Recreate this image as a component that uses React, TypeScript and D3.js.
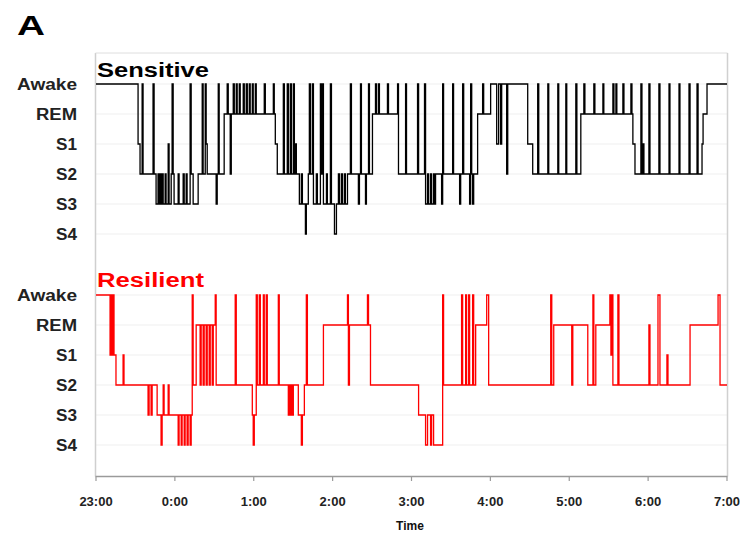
import React from "react";
import * as d3 from "d3";

// Sleep stages (index used in stage arrays)
const stageLabels = ["Awake", "REM", "S1", "S2", "S3", "S4"];
const tickLabels = ["23:00", "0:00", "1:00", "2:00", "3:00", "4:00", "5:00", "6:00", "7:00"];
const recordMinutes = 480; // 23:00 -> 7:00

// Sensitive: minutes after 23:00 at which the stage changes, and the new stage
const sensitiveMinutes = [
  0, 32.0, 33.5, 35.1, 35.8, 43.4, 44.2, 45.7, 47.2, 48.0, 48.8, 49.5, 50.3, 51.1, 52.6, 53.3,
  54.9, 55.6, 57.2, 57.9, 58.7, 59.4, 62.5, 63.2, 66.3, 67.1, 68.6, 69.3, 71.6, 72.4, 73.9, 77.7,
  80.8, 81.5, 83.1, 83.8, 84.6, 91.4, 92.2, 93.0, 93.7, 97.5, 99.8, 100.6, 102.1, 102.9, 104.4, 105.2,
  106.7, 107.4, 109.0, 109.7, 112.0, 112.8, 114.3, 115.1, 116.6, 117.3, 118.9, 119.6, 121.2, 121.9,
  128.0, 128.8, 134.9, 135.6, 136.4, 137.9, 142.5, 143.3, 145.5, 146.3, 147.8, 148.6, 150.1, 150.9,
  151.6, 152.4, 154.7, 156.2, 157.0, 159.3, 160.0, 161.5, 162.3, 163.1, 164.6, 165.4, 167.6, 168.4,
  170.7, 171.5, 172.2, 173.0, 175.3, 176.0, 178.3, 179.1, 181.4, 182.9, 184.4, 185.2, 186.7, 187.5,
  189.0, 189.7, 191.3, 193.5, 194.3, 199.6, 200.4, 201.2, 201.9, 205.0, 205.7, 207.3, 208.0, 210.3,
  212.6, 213.4, 214.9, 215.6, 221.7, 222.5, 229.4, 230.1, 235.5, 236.2, 244.6, 245.4, 249.9, 250.7,
  252.2, 253.0, 254.5, 255.3, 256.8, 257.6, 258.3, 262.9, 263.7, 264.4, 271.3, 272.0, 276.6, 277.4,
  278.9, 279.7, 284.2, 285.0, 285.8, 286.5, 287.3, 290.3, 294.1, 294.9, 300.2, 304.8, 306.3, 307.8,
  308.6, 312.4, 313.2, 328.4, 332.2, 336.0, 336.8, 343.7, 344.4, 351.3, 352.0, 357.4, 358.1, 365.0,
  365.8, 368.8, 371.1, 371.9, 378.7, 379.5, 385.6, 386.3, 393.2, 394.0, 395.5, 396.2, 400.8, 401.6,
  406.9, 407.7, 408.4, 410.0, 414.5, 415.3, 416.1, 416.8, 420.6, 421.4, 428.2, 429.0, 435.9, 436.6,
  443.5, 444.2, 451.1, 451.9, 457.2, 458.0, 461.0, 461.8, 464.8,
];
const sensitiveStages = [
  0, 2, 3, 0, 3, 0, 3, 4, 3, 4, 3, 4, 3, 4, 3, 4,
  2, 4, 3, 0, 3, 4, 3, 4, 3, 4, 3, 4, 0, 3, 4, 3,
  0, 3, 0, 2, 3, 4, 3, 0, 3, 1, 0, 1, 3, 1, 0, 1,
  0, 1, 0, 1, 0, 1, 0, 1, 0, 1, 0, 1, 0, 1,
  0, 1, 0, 1, 2, 3, 0, 3, 0, 3, 0, 3, 0, 3,
  2, 3, 4, 3, 4, 5, 4, 3, 0, 3, 0, 4, 3, 4,
  0, 3, 0, 4, 3, 4, 0, 4, 5, 4, 3, 4, 3, 4,
  3, 4, 3, 0, 3, 4, 3, 0, 3, 4, 3, 0, 3, 1,
  0, 1, 0, 1, 0, 1, 0, 3, 0, 3, 0, 3, 0, 4,
  3, 4, 3, 4, 3, 4, 3, 4, 0, 3, 0, 3, 4, 3,
  0, 3, 4, 0, 3, 4, 3, 1, 0, 1, 0, 2, 0, 2,
  0, 3, 0, 2, 3, 0, 3, 0, 3, 0, 3, 0, 3, 0,
  3, 1, 0, 1, 0, 1, 0, 1, 0, 1, 0, 1, 0, 1,
  0, 1, 2, 3, 0, 3, 2, 3, 0, 3, 0, 3, 0, 3,
  0, 3, 0, 3, 0, 3, 2, 1, 0,
];

// Resilient
const resilientMinutes = [
  0, 10.7, 11.4, 12.2, 13.0, 13.7, 15.2, 20.6, 21.3, 39.6, 40.4, 41.9, 42.7, 46.5, 49.5, 50.3,
  51.1, 51.8, 54.9, 55.6, 62.5, 63.2, 64.8, 65.5, 67.1, 67.8, 69.3, 70.1, 71.6, 72.4, 73.2, 73.9,
  76.2, 79.2, 80.0, 81.5, 82.3, 83.8, 84.6, 86.1, 86.9, 88.4, 89.2, 90.7, 91.4, 105.9, 106.7, 118.9,
  119.6, 120.4, 121.9, 122.7, 124.2, 125.0, 127.3, 128.0, 129.5, 130.3, 138.7, 139.4, 146.3, 147.1,
  147.8, 148.6, 149.4, 150.1, 153.9, 156.2, 157.0, 158.5, 160.0, 160.8, 173.0, 191.3, 192.0, 192.8,
  206.5, 207.3, 208.8, 245.4, 250.7, 252.2, 254.5, 255.3, 256.8, 263.7, 264.4, 278.1, 278.9, 281.2,
  281.9, 283.5, 284.2, 286.5, 287.3, 288.8, 297.2, 298.7, 345.9, 346.7, 348.2, 361.9, 362.7, 374.1,
  378.0, 378.7, 380.2, 390.9, 391.7, 392.4, 393.2, 397.0, 397.8, 420.6, 421.4, 427.5, 429.0, 434.3,
  435.1, 451.9, 473.2, 474.7,
];
const resilientStages = [
  0, 2, 0, 2, 0, 2, 3, 2, 3, 4, 3, 4, 3, 4, 5, 4,
  3, 4, 3, 4, 5, 4, 5, 4, 5, 4, 5, 4, 5, 4, 0, 3,
  1, 3, 1, 3, 1, 3, 1, 3, 1, 3, 1, 0, 3, 0, 3, 4,
  5, 4, 0, 3, 0, 3, 0, 3, 0, 3, 0, 3, 4, 3,
  4, 3, 4, 3, 4, 5, 4, 3, 0, 3, 1, 0, 3, 1,
  0, 1, 3, 4, 5, 4, 5, 4, 5, 0, 3, 0, 3, 0,
  3, 0, 3, 0, 3, 1, 0, 3, 0, 3, 1, 3, 1, 3,
  0, 3, 1, 0, 2, 0, 3, 0, 3, 1, 3, 0, 3, 2,
  3, 1, 0, 3,
];

type Pt = { t: number; s: number };

function toSteps(minutes: number[], stages: number[]): Pt[] {
  const pts = minutes.map((t, i) => ({ t, s: stages[i] }));
  pts.push({ t: recordMinutes, s: stages[stages.length - 1] });
  return pts;
}

const FONT = "'Liberation Sans', Arial, Helvetica, sans-serif";

export default function App() {
  const width = 740;
  const height = 534;
  const x = d3.scaleLinear().domain([0, recordMinutes]).range([96, 727]);
  const yTop = d3.scaleLinear().domain([0, 5]).range([84, 234]);
  const yBot = d3.scaleLinear().domain([0, 5]).range([295, 445]);
  const xTicks = d3.range(0, recordMinutes + 1, 60);

  const lineTop = d3
    .line<Pt>()
    .x((d) => x(d.t))
    .y((d) => yTop(d.s))
    .curve(d3.curveStepAfter);
  const lineBot = d3
    .line<Pt>()
    .x((d) => x(d.t))
    .y((d) => yBot(d.s))
    .curve(d3.curveStepAfter);

  const sens = toSteps(sensitiveMinutes, sensitiveStages);
  const res = toSteps(resilientMinutes, resilientStages);

  const labelWidths = [60, 41, 21, 21, 21, 21];
  const x0 = x(0);
  const x1 = x(recordMinutes);

  return (
    <svg
      width={width}
      height={height}
      style={{ position: "absolute", left: 0, top: 0, background: "#fff" }}
      fontFamily={FONT}
    >
      <rect x={0} y={0} width={width} height={height} fill="#fff" />
      {/* panel letter */}
      <text x={17} y={35} fontSize={27} fontWeight="bold" textLength={28} lengthAdjust="spacingAndGlyphs">
        A
      </text>

      {/* gridlines */}
      {stageLabels.map((_, i) => (
        <g key={"g" + i}>
          <line x1={x0} x2={x1} y1={yTop(i)} y2={yTop(i)} stroke="#efefef" strokeWidth={1} />
          <line x1={x0} x2={x1} y1={yBot(i)} y2={yBot(i)} stroke="#efefef" strokeWidth={1} />
        </g>
      ))}

      {/* frame */}
      <line x1={x0 - 0.5} x2={x0 - 0.5} y1={53} y2={476.5} stroke="#cfcfcf" strokeWidth={1.5} />
      <line x1={x0 - 0.5} x2={x1 + 0.5} y1={53} y2={53} stroke="#dedede" strokeWidth={1} />
      <line x1={x1 + 0.5} x2={x1 + 0.5} y1={53} y2={476.5} stroke="#d0d0d0" strokeWidth={1.5} />

      {/* x axis */}
      <line x1={x0 - 0.5} x2={x1 + 0.5} y1={476.5} y2={476.5} stroke="#9a9a9a" strokeWidth={1.3} />
      {xTicks.map((t, i) => (
        <g key={"t" + i}>
          <line x1={x(t)} x2={x(t)} y1={476.5} y2={481} stroke="#9a9a9a" strokeWidth={1.2} />
          <text x={x(t)} y={506} fontSize={13} fontWeight="bold" textAnchor="middle" fill="#222">
            {tickLabels[i]}
          </text>
        </g>
      ))}
      <text x={410} y={530} fontSize={12} fontWeight="bold" textAnchor="middle" fill="#111">
        Time
      </text>

      {/* y labels */}
      {stageLabels.map((lab, i) => (
        <g key={"l" + i}>
          <text
            x={77}
            y={yTop(i) + 5.5}
            fontSize={16}
            fontWeight="bold"
            textAnchor="end"
            fill="#222"
            textLength={labelWidths[i]}
            lengthAdjust="spacingAndGlyphs"
          >
            {lab}
          </text>
          <text
            x={77}
            y={yBot(i) + 5.5}
            fontSize={16}
            fontWeight="bold"
            textAnchor="end"
            fill="#222"
            textLength={labelWidths[i]}
            lengthAdjust="spacingAndGlyphs"
          >
            {lab}
          </text>
        </g>
      ))}

      {/* series */}
      <path d={lineTop(sens) || ""} fill="none" stroke="#000" strokeWidth={1.3} />
      <path d={lineBot(res) || ""} fill="none" stroke="#ff0000" strokeWidth={1.3} />

      {/* series titles */}
      <text x={97} y={77} fontSize={20} fontWeight="bold" fill="#000" textLength={112} lengthAdjust="spacingAndGlyphs">
        Sensitive
      </text>
      <text x={97} y={287} fontSize={20} fontWeight="bold" fill="#ff0000" textLength={107} lengthAdjust="spacingAndGlyphs">
        Resilient
      </text>
    </svg>
  );
}
